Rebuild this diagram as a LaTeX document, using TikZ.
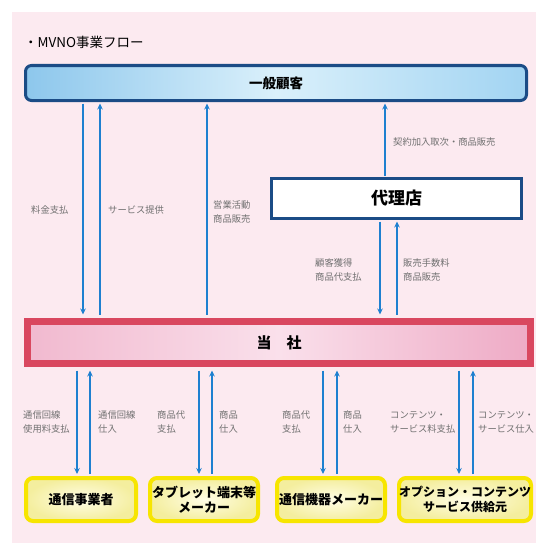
\documentclass[tikz,border=0pt]{standalone}
\usepackage{fontspec}
\setmainfont{Noto Sans CJK JP}
\usetikzlibrary{arrows.meta,shadings}
\definecolor{bgpink}{HTML}{FCEAF0}
\definecolor{navy}{HTML}{1B4C86}
\definecolor{arrblue}{HTML}{1E80D0}
\definecolor{lblgray}{HTML}{707070}
\definecolor{redframe}{HTML}{D9475F}
\definecolor{yelframe}{HTML}{F7E500}
\definecolor{skyL}{HTML}{8DC7EC}
\definecolor{skyM}{HTML}{DAF0FB}
\definecolor{skyR}{HTML}{A2D4F2}
\definecolor{pinkL}{HTML}{F1B9CF}
\definecolor{pinkM}{HTML}{FAE0EB}
\definecolor{pinkR}{HTML}{EEAAC5}
\definecolor{yelIn}{HTML}{FFFDE6}
\definecolor{yelOut}{HTML}{F4EE9E}
\tikzset{
  arr/.style={draw=arrblue, line width=1.8pt, -{Stealth[length=6pt,width=5.5pt]}},
  lbl/.style={anchor=west, text=lblgray, font=\fontsize{9.3}{14}\selectfont, align=left, inner sep=0pt},
  custbox/.style={draw=navy, line width=3pt, rounded corners=6pt, left color=skyL, right color=skyR, middle color=skyM,
    font=\bfseries\fontsize{13.5}{16}\selectfont, inner sep=0pt},
  agentbox/.style={draw=navy, line width=3pt, fill=white, font=\bfseries\fontsize{17}{20}\selectfont, inner sep=0pt},
  mainbox/.style={draw=redframe, line width=7pt, left color=pinkL, right color=pinkR, middle color=pinkM,
    font=\bfseries\fontsize{15}{18}\selectfont, inner sep=0pt},
  partbox/.style={draw=yelframe, line width=4pt, rounded corners=7pt, inner color=yelIn, outer color=yelOut,
    font=\bfseries\fontsize{13}{15}\selectfont, align=center, inner sep=0pt, minimum height=43pt},
}
\begin{document}
\begin{tikzpicture}[x=1pt,y=-1pt]
\useasboundingbox (0,0) rectangle (536,543);
\fill[white] (0,0) rectangle (536,543);
\fill[bgpink] (12,12) rectangle (536,543);
\node[anchor=west, font=\fontsize{13.5}{16}\selectfont, inner sep=0pt] (title) at (24,42) {・MVNO事業フロー};

\node[custbox, minimum width=501pt, minimum height=35pt] (cust) at (276,83) {一般顧客};
\node[agentbox, minimum width=250pt, minimum height=40pt] (agent) at (396.5,198.5) {代理店};
\node[mainbox, minimum width=503pt, minimum height=42pt] (main) at (279,342.5) {当\hspace{1em}社};

\node[partbox, minimum width=110pt] (p1) at (81,499.5) {通信事業者};
\node[partbox, minimum width=108pt] (p2) at (204,499.5) {タブレット端末等\\メーカー};
\node[partbox, minimum width=108pt] (p3) at (331,499.5) {通信機器メーカー};
\node[partbox, minimum width=132pt, font=\bfseries\fontsize{12}{14.5}\selectfont] (p4) at (465,499.5) {オプション・コンテンツ\\サービス供給元};

% column coordinates
\foreach \n/\x in {a/83,b/100,c/207,d/385,e/380,f/397,g/77,h/90,i/199,j/212,k/323,l/337,m/459,n/473}
  \coordinate (x\n) at (\x,0);

% upper arrows
\draw[arr] ([yshift=-1.5pt]cust.south -| xa) -- ([yshift=3.5pt]main.north -| xa);
\draw[arr] ([yshift=3.5pt]main.north -| xb) -- ([yshift=-1.5pt]cust.south -| xb);
\draw[arr] ([yshift=3.5pt]main.north -| xc) -- ([yshift=-1.5pt]cust.south -| xc);
\draw[arr] ([yshift=1.5pt]agent.north -| xd) -- ([yshift=-1.5pt]cust.south -| xd);
\draw[arr] ([yshift=-1.5pt]agent.south -| xe) -- ([yshift=3.5pt]main.north -| xe);
\draw[arr] ([yshift=3.5pt]main.north -| xf) -- ([yshift=-1.5pt]agent.south -| xf);

% lower arrows
\draw[arr] ([yshift=-3.5pt]main.south -| xg) -- ([yshift=2pt]p1.north -| xg);
\draw[arr] ([yshift=2pt]p1.north -| xh) -- ([yshift=-3.5pt]main.south -| xh);
\draw[arr] ([yshift=-3.5pt]main.south -| xi) -- ([yshift=2pt]p2.north -| xi);
\draw[arr] ([yshift=2pt]p2.north -| xj) -- ([yshift=-3.5pt]main.south -| xj);
\draw[arr] ([yshift=-3.5pt]main.south -| xk) -- ([yshift=2pt]p3.north -| xk);
\draw[arr] ([yshift=2pt]p3.north -| xl) -- ([yshift=-3.5pt]main.south -| xl);
\draw[arr] ([yshift=-3.5pt]main.south -| xm) -- ([yshift=2pt]p4.north -| xm);
\draw[arr] ([yshift=2pt]p4.north -| xn) -- ([yshift=-3.5pt]main.south -| xn);

% labels
\node[lbl] (l1) at (31,210) {料金支払};
\node[lbl] (l2) at (108,210) {サービス提供};
\node[lbl] (l3) at (213,212) {営業活動\\商品販売};
\node[lbl] (l4) at (393,142) {契約加入取次・商品販売};
\node[lbl] (l5) at (315,270) {顧客獲得\\商品代支払};
\node[lbl] (l6) at (403,270) {販売手数料\\商品販売};

\node[lbl] (m1) at (23,422) {通信回線\\使用料支払};
\node[lbl] (m2) at (98,422) {通信回線\\仕入};
\node[lbl] (m3) at (157,422) {商品代\\支払};
\node[lbl] (m4) at (219,422) {商品\\仕入};
\node[lbl] (m5) at (282,422) {商品代\\支払};
\node[lbl] (m6) at (343,422) {商品\\仕入};
\node[lbl] (m7) at (390,422) {コンテンツ・\\サービス料支払};
\node[lbl] (m8) at (478,422) {コンテンツ・\\サービス仕入};
\end{tikzpicture}
\end{document}
